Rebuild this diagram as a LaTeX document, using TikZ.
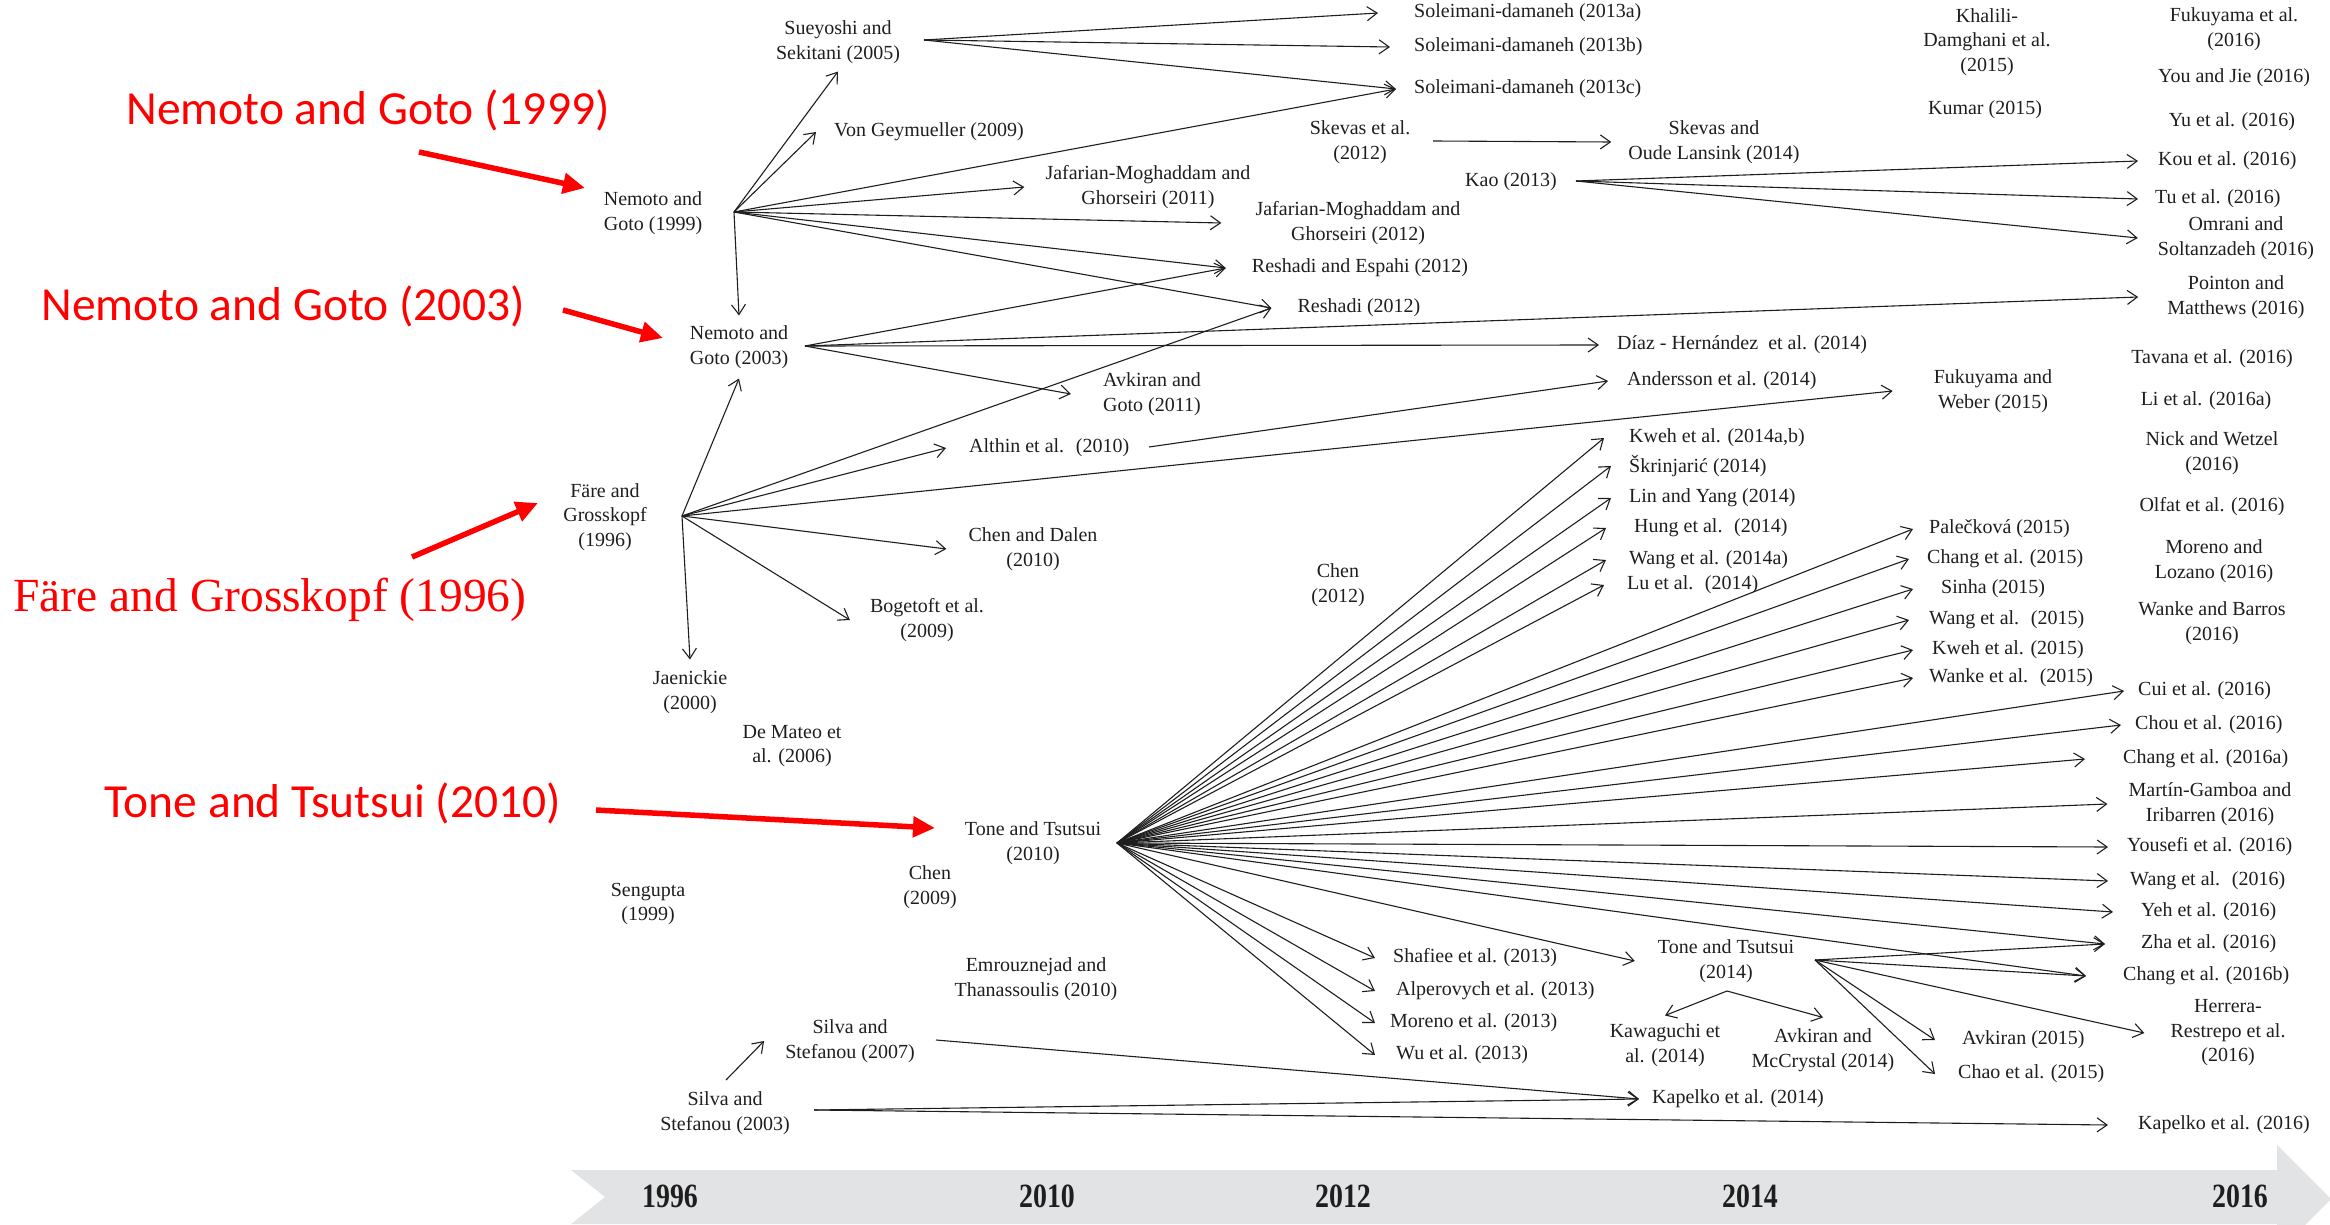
\documentclass[tikz,border=0pt]{standalone}
\usepackage{fontspec}
\setmainfont{Liberation Serif}
\newfontfamily\calloutsans{Carlito}
\newfontfamily\yearfont[FakeStretch=0.82]{Liberation Serif}
\usetikzlibrary{arrows.meta}
\definecolor{barfill}{HTML}{E2E3E5}
\definecolor{ink}{HTML}{1E1E1E}
\definecolor{callred}{HTML}{FF0000}
\begin{document}
\begin{tikzpicture}[x=1pt,y=-1pt,
  paper/.style={font=\fontsize{20}{24.5}\selectfont, text=ink, align=center, inner ysep=2pt, inner xsep=18pt},
  link/.style={draw=ink, line width=1.1pt, -{Straight Barb[length=10pt,width=14pt]}},
  callout/.style={font=\calloutsans\fontsize{47.5}{50}\selectfont, text=callred, inner sep=0pt},
  calloutarrow/.style={draw=callred, line width=5.5pt, -{Triangle[length=22pt,width=20pt]}},
  yearlbl/.style={font=\yearfont\bfseries\fontsize{34}{36}\selectfont, text=ink, inner sep=0pt}
]
\useasboundingbox (0,0) rectangle (2330,1225);
\clip (0,0) rectangle (2330,1225);

% timeline band
\fill[barfill] (571,1170) -- (2277,1170) -- (2277,1145) -- (2331,1199) -- (2277,1253)
  -- (2277,1224) -- (571,1224) -- (605,1197) -- cycle;
\node[yearlbl] (y1996) at (670,1196) {1996};
\node[yearlbl] (y2010) at (1047,1196) {2010};
\node[yearlbl] (y2012) at (1343,1196) {2012};
\node[yearlbl] (y2014) at (1750,1196) {2014};
\node[yearlbl] (y2016) at (2240,1196) {2016};

% ---------- papers: single-line, placed at their arrow tip ----------
\node[paper, anchor=west, inner xsep=36pt] (sola) at (1378,13) {Soleimani-damaneh (2013a)};
\node[paper, anchor=west, inner xsep=24pt] (solb) at (1390,47) {Soleimani-damaneh (2013b)};
\node[paper, anchor=west, inner xsep=18pt] (solc) at (1396,89) {Soleimani-damaneh (2013c)};
\node[paper, anchor=west, inner xsep=18pt] (vong) at (816,132) {Von Geymueller (2009)};
\node[paper, anchor=west, inner xsep=20pt] (kou) at (2138,161) {Kou et al. (2016)};
\node[paper, anchor=west, inner xsep=17pt] (tu) at (2138,199) {Tu et al. (2016)};
\node[paper, anchor=west, inner xsep=18pt] (diaz) at (1599,345) {Díaz - Hernández~ et al. (2014)};
\node[paper, anchor=west, inner xsep=19pt] (anders) at (1608,381) {Andersson et al. (2014)};
\node[paper, anchor=west, inner xsep=23pt] (althin) at (946,448) {Althin et al.~ (2010)};
\node[paper, anchor=west, inner xsep=25pt] (kweh14) at (1604,438) {Kweh et al. (2014a,b)};
\node[paper, anchor=west, inner xsep=18pt] (skrin) at (1611,466) {Škrinjarić (2014)};
\node[paper, anchor=west, inner xsep=18pt] (linyang) at (1611,498) {Lin and Yang (2014)};
\node[paper, anchor=west, inner xsep=28pt] (hung) at (1606,528) {Hung et al.~ (2014)};
\node[paper, anchor=west, inner xsep=23pt] (wang14) at (1606,560) {Wang et al. (2014a)};
\node[paper, anchor=west, inner xsep=23pt] (lu) at (1604,585) {Lu et al.~ (2014)};
\node[paper, anchor=west, inner xsep=16pt] (pal) at (1913,529) {Palečková (2015)};
\node[paper, anchor=west, inner xsep=18pt] (chang15) at (1909,559) {Chang et al. (2015)};
\node[paper, anchor=west, inner xsep=28pt] (sinha) at (1913,589) {Sinha (2015)};
\node[paper, anchor=west, inner xsep=20pt] (wang15) at (1909,620) {Wang et al.~ (2015)};
\node[paper, anchor=west, inner xsep=19pt] (kweh15) at (1913,650) {Kweh et al. (2015)};
\node[paper, anchor=west, inner xsep=16pt] (wanke15) at (1913,678) {Wanke et al.~ (2015)};
\node[paper, anchor=west, inner xsep=14pt] (cui) at (2124,691) {Cui et al. (2016)};
\node[paper, anchor=west, inner xsep=14pt] (chou) at (2121,725) {Chou et al. (2016)};
\node[paper, anchor=west, inner xsep=38pt] (chang16a) at (2085,759) {Chang et al. (2016a)};
\node[paper, anchor=west, inner xsep=19pt] (yousefi) at (2108,847) {Yousefi et al. (2016)};
\node[paper, anchor=west, inner xsep=22pt] (wang16) at (2108,881) {Wang et al.~ (2016)};
\node[paper, anchor=west, inner xsep=28pt] (yeh) at (2113,912) {Yeh et al. (2016)};
\node[paper, anchor=west, inner xsep=36pt] (zha) at (2105,944) {Zha et al. (2016)};
\node[paper, anchor=west, inner xsep=37pt] (chang16b) at (2086,976) {Chang et al. (2016b)};
\node[paper, anchor=west, inner xsep=27pt] (avk15) at (1935,1040) {Avkiran (2015)};
\node[paper, anchor=west, inner xsep=23pt] (chao) at (1935,1074) {Chao et al. (2015)};
\node[paper, anchor=west, inner xsep=13pt] (kap14) at (1639,1099) {Kapelko et al. (2014)};
\node[paper, anchor=west, inner xsep=30pt] (kap16) at (2108,1125) {Kapelko et al. (2016)};
\node[paper, anchor=west, inner xsep=18pt] (shafiee) at (1375,958) {Shafiee et al. (2013)};
\node[paper, anchor=west, inner xsep=21pt] (alper) at (1375,991) {Alperovych et al. (2013)};
\node[paper, anchor=west, inner xsep=15pt] (moreno13) at (1375,1023) {Moreno et al. (2013)};
\node[paper, anchor=west, inner xsep=21pt] (wu) at (1375,1055) {Wu et al. (2013)};

% ---------- papers: centred ----------
\node[paper, inner ysep=8pt] (suey) at (838,42) {Sueyoshi and\\Sekitani (2005)};
\node[paper] (khal) at (1987,42) {Khalili-\\Damghani et al.\\(2015)};
\node[paper] (fuk16) at (2234,29) {Fukuyama et al.\\(2016)};
\node[paper] (youjie) at (2234,78) {You and Jie (2016)};
\node[paper] (kumar) at (1985,110) {Kumar (2015)};
\node[paper] (yu) at (2232,122) {Yu et al. (2016)};
\node[paper] (skev12) at (1360,142) {Skevas et al.\\(2012)};
\node[paper, inner xsep=17pt] (skev14) at (1714,142) {Skevas and\\Oude Lansink (2014)};
\node[paper] (ng99) at (653,213) {Nemoto and\\Goto (1999)};
\node[paper, inner xsep=21pt] (jaf11) at (1148,187) {Jafarian-Moghaddam and\\Ghorseiri (2011)};
\node[paper] (kao) at (1511,182) {Kao (2013)};
\node[paper, inner xsep=20pt] (omr) at (2236,238) {Omrani and\\Soltanzadeh (2016)};
\node[paper, inner xsep=34pt] (jaf12) at (1358,223) {Jafarian-Moghaddam and\\Ghorseiri (2012)};
\node[paper, inner xsep=26pt] (resesp) at (1360,268) {Reshadi and Espahi (2012)};
\node[paper, inner xsep=26pt] (resh) at (1359,308) {Reshadi (2012)};
\node[paper, inner xsep=29pt] (point) at (2236,297) {Pointon and\\Matthews (2016)};
\node[paper, inner ysep=10pt] (ng03) at (739,347) {Nemoto and\\Goto (2003)};
\node[paper] (tavana) at (2212,359) {Tavana et al. (2016)};
\node[paper, inner xsep=32pt] (avgoto) at (1152,394) {Avkiran and\\Goto (2011)};
\node[paper, inner xsep=41pt] (fukweb) at (1993,391) {Fukuyama and\\Weber (2015)};
\node[paper] (li16) at (2206,401) {Li et al. (2016a)};
\node[paper] (nick) at (2212,453) {Nick and Wetzel\\(2016)};
\node[paper] (fare) at (605,517) {Färe and\\Grosskopf\\(1996)};
\node[paper] (olfat) at (2212,507) {Olfat et al. (2016)};
\node[paper, inner xsep=22pt] (chdal) at (1033,549) {Chen and Dalen\\(2010)};
\node[paper] (chen12) at (1338,585) {Chen\\(2012)};
\node[paper] (moreloz) at (2214,561) {Moreno and\\Lozano (2016)};
\node[paper] (wankebar) at (2212,623) {Wanke and Barros\\(2016)};
\node[paper, inner xsep=20pt] (bog) at (927,620) {Bogetoft et al.\\(2009)};
\node[paper, inner ysep=11pt] (jaen) at (690,692) {Jaenickie\\(2000)};
\node[paper, inner xsep=21pt] (martin) at (2210,804) {Martín-Gamboa and\\Iribarren (2016)};
\node[paper] (tt10) at (1033,843) {Tone and Tsutsui\\(2010)};
\node[paper] (chen09) at (930,887) {Chen\\(2009)};
\node[paper] (seng) at (648,904) {Sengupta\\(1999)};
\node[paper, inner xsep=23pt, inner ysep=8pt] (tt14) at (1726,961) {Tone and Tsutsui\\(2014)};
\node[paper] (demateo) at (792,746) {De Mateo et\\al. (2006)};
\node[paper] (emrouz) at (1036,979) {Emrouznejad and\\Thanassoulis (2010)};
\node[paper, inner xsep=26pt] (herrera) at (2228,1033) {Herrera-\\Restrepo et al.\\(2016)};
\node[paper, inner ysep=8pt] (kaw) at (1665,1045) {Kawaguchi et\\al. (2014)};
\node[paper, inner ysep=11pt] (avkmc) at (1823,1050) {Avkiran and\\McCrystal (2014)};
\node[paper, inner xsep=21pt] (silva07) at (850,1041) {Silva and\\Stefanou (2007)};
\node[paper] (silva03) at (725,1113) {Silva and\\Stefanou (2003)};

% ---------- points where the citation fans start ----------
\coordinate (ng99o) at (734,212);
\coordinate (sueyo) at (924,40);
\coordinate (skev12o) at (1433,141);
\coordinate (kaoo) at (1576,181);
\coordinate (ng03o) at (805,346);
\coordinate (fareo) at (682,516);
\coordinate (althino) at (1149,447);
\coordinate (tt10o) at (1117,843);
\coordinate (tt14o) at (1815,960);
\coordinate (tt14d) at (1727,991);
\coordinate (silva03o) at (814,1110);
\coordinate (silva03u) at (726,1080);
\coordinate (silva07o) at (936,1040);

% ---------- citation links ----------
\foreach \t in {suey.south, vong.west, solc.west, jaf11.west, jaf12.west, resesp.west, resh.west, ng03.north}
  \draw[link] (ng99o) -- (\t);
\foreach \t in {sola, solb, solc}
  \draw[link] (sueyo) -- (\t.west);
\draw[link] (skev12o) -- (skev14.west);
\foreach \t in {kou, tu, omr}
  \draw[link] (kaoo) -- (\t.west);
\foreach \t in {resesp, diaz, point, avgoto}
  \draw[link] (ng03o) -- (\t.west);
\foreach \t in {ng03.south, resh.west, althin.west, fukweb.west, chdal.west, bog.west, jaen.north}
  \draw[link] (fareo) -- (\t);
\draw[link] (althino) -- (anders.west);
\foreach \t in {kweh14, skrin, linyang, hung, wang14, lu,
                pal, chang15, sinha, wang15, kweh15, wanke15,
                cui, chou, chang16a, martin, yousefi, wang16, yeh, zha, chang16b,
                tt14, shafiee, alper, moreno13, wu}
  \draw[link] (tt10o) -- (\t.west);
\foreach \t in {zha, chang16b, herrera, avk15, chao}
  \draw[link] (tt14o) -- (\t.west);
\draw[link] (tt14d) -- (kaw.north);
\draw[link] (tt14d) -- (avkmc.north);
\draw[link] (silva03u) -- (silva07.west);
\draw[link] (silva03o) -- (kap14.west);
\draw[link] (silva03o) -- (kap16.west);
\draw[link] (silva07o) -- (kap14.west);

% ---------- red call-outs ----------
\node[callout] (c99) at (368,110) {Nemoto and Goto (1999)};
\node[callout] (c03) at (283,306) {Nemoto and Goto (2003)};
\node[callout, font=\rmfamily\fontsize{47.5}{50}\selectfont] (cfare) at (270,600) {Färe and Grosskopf (1996)};
\node[callout] (c10) at (333,803) {Tone and Tsutsui (2010)};
\coordinate (c99a) at (419,152);  \coordinate (c99b) at (585,188);
\coordinate (c03a) at (563,310);  \coordinate (c03b) at (663,338);
\coordinate (cfa) at (412,557);   \coordinate (cfb) at (538,503);
\coordinate (c10a) at (596,810);  \coordinate (c10b) at (935,828);
\draw[calloutarrow] (c99a) -- (c99b);
\draw[calloutarrow] (c03a) -- (c03b);
\draw[calloutarrow] (cfa) -- (cfb);
\draw[calloutarrow] (c10a) -- (c10b);
\end{tikzpicture}
\end{document}
